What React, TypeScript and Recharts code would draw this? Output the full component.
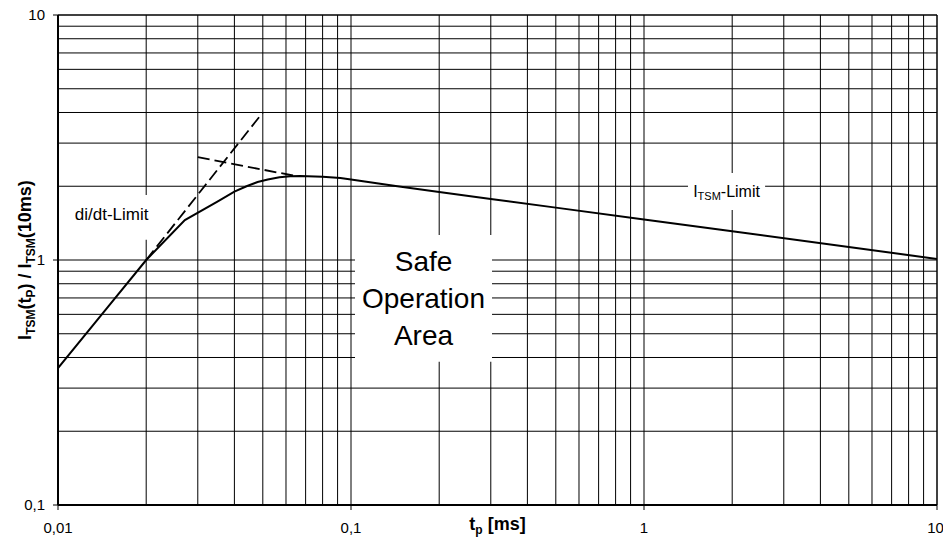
import React from 'react';
import { LineChart, Line, XAxis, YAxis, ReferenceLine, ReferenceArea } from 'recharts';

const FONT = '"Liberation Sans", Arial, sans-serif';

// axis ticks and grid
const X_TICKS = [0.01, 0.1, 1, 10];
const Y_TICKS = [0.1, 1, 10];
const GRID_STEPS = [1, 2, 3, 4, 5, 6, 7, 8, 9];
const X_DECADES = [0.01, 0.1, 1];
const Y_DECADES = [0.1, 1];

// I_TSM(tp) / I_TSM(10ms) curve
const tpValues = [0.01, 0.015, 0.02, 0.0271, 0.035, 0.04, 0.044, 0.048, 0.052, 0.057, 0.062, 0.067, 0.08, 0.092, 0.1, 0.144, 0.2, 0.3, 0.5, 1, 2, 5, 10];
const ratioValues = [0.362, 0.656, 1.0, 1.456, 1.73, 1.9, 2.0, 2.08, 2.13, 2.175, 2.195, 2.2, 2.185, 2.16, 2.13, 2.0, 1.895, 1.776, 1.636, 1.464, 1.31, 1.13, 1.01];

// dashed limit lines
const didtTp = [0.02, 0.05];
const didtRatio = [1.0, 4.0];
const itsmTp = [0.03, 0.065];
const itsmRatio = [2.63, 2.2];

const gridX = X_DECADES.flatMap(d => GRID_STEPS.map(s => +(d * s).toPrecision(3))).concat([10]);
const gridY = Y_DECADES.flatMap(d => GRID_STEPS.map(s => +(d * s).toPrecision(3))).concat([10]);

const curve = tpValues.map((x, i) => ({ x, y: ratioValues[i] }));
const didtLine = didtTp.map((x, i) => ({ x, y: didtRatio[i] }));
const itsmLine = itsmTp.map((x, i) => ({ x, y: itsmRatio[i] }));

const fmt = (v: number) => String(v).replace('.', ',');

const YTitle = ({ viewBox }: any) => {
    const cx = viewBox.x + 25;
    const cy = viewBox.y + viewBox.height / 2;
    return (
        <text
            x={cx}
            y={cy + 6}
            transform={`rotate(-90 ${cx} ${cy})`}
            textAnchor="middle"
            fontFamily={FONT}
            fontWeight="bold"
            fontSize={18}
            fill="#000"
        >
            I<tspan fontSize={12} dy={4}>TSM</tspan>
            <tspan dy={-4}>(t</tspan>
            <tspan fontSize={12} dy={4}>P</tspan>
            <tspan dy={-4}>) / I</tspan>
            <tspan fontSize={12} dy={4}>TSM</tspan>
            <tspan dy={-4}>(10ms)</tspan>
        </text>
    );
};

const XTitle = ({ viewBox }: any) => (
    <text
        x={viewBox.x + viewBox.width / 2}
        y={viewBox.y + 25}
        textAnchor="middle"
        fontFamily={FONT}
        fontWeight="bold"
        fontSize={18}
        fill="#000"
    >
        t<tspan fontSize={12} dy={4}>p</tspan>
        <tspan dy={-4}> [ms]</tspan>
    </text>
);

const DidtLabel = ({ viewBox }: any) => (
    <text
        x={viewBox.x + viewBox.width / 2 + 1}
        y={viewBox.y + viewBox.height / 2 + 3}
        textAnchor="middle"
        fontFamily={FONT}
        fontSize={17}
        fill="#000"
    >
        di/dt-Limit
    </text>
);

const ItsmLabel = ({ viewBox }: any) => (
    <text
        x={viewBox.x + viewBox.width / 2}
        y={viewBox.y + viewBox.height / 2 + 6}
        textAnchor="middle"
        fontFamily={FONT}
        fontSize={16}
        fill="#000"
    >
        I<tspan fontSize={11} dy={3}>TSM</tspan>
        <tspan dy={-3}>-Limit</tspan>
    </text>
);

const SoaLabel = ({ viewBox }: any) => {
    const cx = viewBox.x + viewBox.width / 2;
    const cy = viewBox.y + viewBox.height / 2 + 10;
    return (
        <text textAnchor="middle" fontFamily={FONT} fontSize={28} fill="#000">
            <tspan x={cx} y={cy - 37}>Safe</tspan>
            <tspan x={cx} y={cy}>Operation</tspan>
            <tspan x={cx} y={cy + 37}>Area</tspan>
        </text>
    );
};

export default function App() {
    return (
        <div style={{ position: 'absolute', left: 0, top: 0, width: 943, height: 540, background: '#fff' }}>
            <LineChart width={943} height={540} margin={{ top: 15, right: 6, bottom: 0, left: 0 }}>
                <XAxis
                    type="number"
                    dataKey="x"
                    scale="log"
                    domain={[0.01, 10]}
                    ticks={X_TICKS}
                    tickFormatter={fmt}
                    allowDataOverflow
                    height={35}
                    tickSize={5}
                    tickMargin={12}
                    axisLine={{ stroke: '#000', strokeWidth: 2 }}
                    tickLine={{ stroke: '#000' }}
                    tick={{ fill: '#000', fontSize: 15, fontFamily: FONT }}
                    label={{ content: XTitle }}
                />
                <YAxis
                    type="number"
                    dataKey="y"
                    scale="log"
                    domain={[0.1, 10]}
                    ticks={Y_TICKS}
                    tickFormatter={fmt}
                    allowDataOverflow
                    width={58}
                    tickSize={5}
                    tickMargin={8}
                    axisLine={{ stroke: '#000', strokeWidth: 2 }}
                    tickLine={{ stroke: '#000' }}
                    tick={{ fill: '#000', fontSize: 15, fontFamily: FONT }}
                    label={{ content: YTitle }}
                />
                {gridX.map(v => (
                    <ReferenceLine key={`gx-${v}`} x={v} stroke="#000" strokeWidth={v === 10 ? 1.5 : 1} zIndex={50} />
                ))}
                {gridY.map(v => (
                    <ReferenceLine key={`gy-${v}`} y={v} stroke="#000" strokeWidth={v === 10 ? 1.5 : 1} zIndex={50} />
                ))}
                <ReferenceArea x1={0.011} x2={0.0208} y1={1.21} y2={1.84} fill="#fff" fillOpacity={1} stroke="none" zIndex={150} label={{ content: DidtLabel }} />
                <ReferenceArea x1={0.1032} x2={0.3029} y1={0.384} y2={1.265} fill="#fff" fillOpacity={1} stroke="none" zIndex={150} label={{ content: SoaLabel }} />
                <ReferenceArea x1={1.413} x2={2.59} y1={1.6} y2={2.265} fill="#fff" fillOpacity={1} stroke="none" zIndex={150} label={{ content: ItsmLabel }} />
                <Line data={didtLine} dataKey="y" type="linear" stroke="#000" strokeWidth={1.8} strokeDasharray="12 5" dot={false} isAnimationActive={false} zIndex={600} />
                <Line data={itsmLine} dataKey="y" type="linear" stroke="#000" strokeWidth={1.8} strokeDasharray="12 5" dot={false} isAnimationActive={false} zIndex={600} />
                <Line data={curve} dataKey="y" type="linear" stroke="#000" strokeWidth={2} dot={false} isAnimationActive={false} zIndex={600} />
            </LineChart>
        </div>
    );
}
